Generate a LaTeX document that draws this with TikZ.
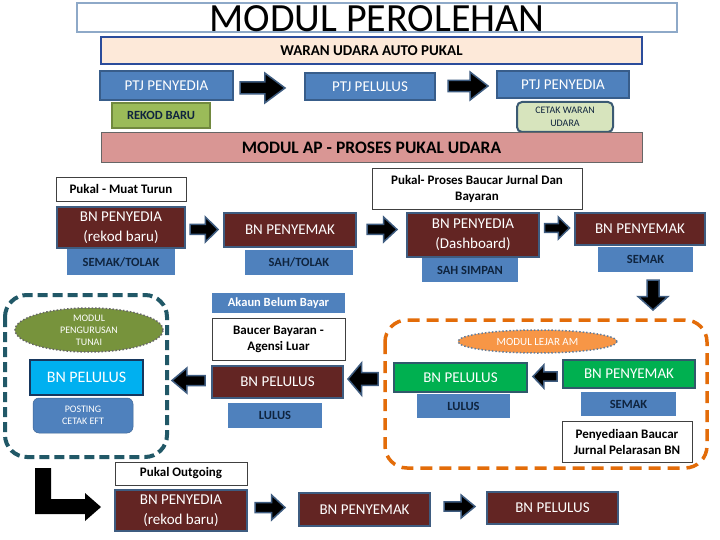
\documentclass[tikz,border=0pt]{standalone}
\usepackage{fontspec}
\setmainfont{Carlito}
\usetikzlibrary{shapes.geometric}
\definecolor{pblue}{HTML}{4F81BD}
\definecolor{pbluedk}{HTML}{385D8A}
\definecolor{maroon}{HTML}{632523}
\definecolor{slateedge}{HTML}{3E5C80}
\definecolor{titleedge}{HTML}{8EA9C8}
\definecolor{peach}{HTML}{FDE9D9}
\definecolor{waranedge}{HTML}{2B4C9B}
\definecolor{pinkap}{HTML}{D99694}
\definecolor{olivebox}{HTML}{9BBB59}
\definecolor{oliveedge}{HTML}{71893F}
\definecolor{lightgreen}{HTML}{D7E4BD}
\definecolor{cetakedge}{HTML}{3B5A73}
\definecolor{tealdash}{HTML}{215867}
\definecolor{olivedk}{HTML}{77933C}
\definecolor{cyanbox}{HTML}{00B0F0}
\definecolor{cyanedge}{HTML}{17375E}
\definecolor{orangedash}{HTML}{E36C09}
\definecolor{orangefill}{HTML}{F79646}
\definecolor{greenbox}{HTML}{00B050}
\definecolor{greenedge}{HTML}{31596B}
\definecolor{navytext}{HTML}{0F243E}
\newcommand\fs[2]{\fontsize{#1}{#2}\selectfont}
\newcommand\bx[7]{\node[#1, minimum width={(#5-#3)*1pt}, minimum height={(#6-#4)*1pt}] (#2) at ({(#3+#5)/2},{(#4+#6)/2}) {#7};}
\newcommand\barr[6]{%
  \begin{scope}[shift={(#2,#3)}, rotate=#6]
    \draw[blk] ({-#4/2},{-#5*0.2}) -- ({#4*0.05},{-#5*0.2}) -- ({#4*0.05},{-#5/2}) -- ({#4/2},0) -- ({#4*0.05},{#5/2}) -- ({#4*0.05},{#5*0.2}) -- ({-#4/2},{#5*0.2}) -- cycle;
  \end{scope}
  \coordinate (#1) at (#2,#3);}
\tikzset{
  base/.style={inner sep=0pt, align=center},
  ptjbox/.style={base, draw=pbluedk, fill=pblue, line width=1.5pt, text=white, font=\fs{15}{18}},
  mbox/.style={base, draw=slateedge, fill=maroon, line width=2.5pt, text=white, font=\fs{15}{20}},
  tagbox/.style={base, fill=pblue, text=navytext, font=\bfseries\fs{12.5}{15}},
  wbox/.style={base, draw=black!75, fill=white, line width=0.8pt, text=black, font=\bfseries\fs{13}{16}},
  blk/.style={fill=black, draw=slateedge, line width=1.5pt, line join=miter},
}
\begin{document}
\begin{tikzpicture}[x=1pt, y=-1pt]
\useasboundingbox (0,0) rectangle (720,540);
\fill[white] (0,0) rectangle (720,540);

% title
\bx{base, draw=titleedge, line width=2pt}{titlebox}{77}{3}{677}{32}{}
\node[inner sep=0, anchor=base, font=\fs{40}{42}] (title) at (377,32) {MODUL PEROLEHAN};

% waran
\bx{base, draw=waranedge, fill=peach, line width=2.5pt, font=\bfseries\fs{15}{17}}{waran}{101}{37}{642}{64}{WARAN UDARA AUTO PUKAL}

% PTJ row
\bx{ptjbox}{ptj1}{100}{71}{233}{100}{PTJ PENYEDIA}
\barr{a1}{262.5}{88}{45}{30}{0}
\bx{ptjbox}{ptj2}{305}{73}{435}{100}{PTJ PELULUS}
\barr{a2}{468}{86}{40}{28}{0}
\bx{ptjbox}{ptj3}{497}{71}{629}{98}{PTJ PENYEDIA}
\bx{base, draw=oliveedge, fill=olivebox, line width=1.5pt, text=navytext, font=\bfseries\fs{12.5}{14}}{rekod}{112}{103}{210}{128}{REKOD BARU}
\bx{base, draw=cetakedge, fill=lightgreen, line width=2pt, rounded corners=5pt, text=navytext, font=\fs{10}{13}}{cetak}{517}{102}{613}{132}{CETAK WARAN\\UDARA}

% Modul AP
\bx{base, draw=black!60, fill=pinkap, line width=1pt, font=\bfseries\fs{17.5}{20}}{modulap}{101}{133}{642}{163}{MODUL AP - PROSES PUKAL UDARA}

% row 1
\bx{wbox}{muat}{56}{177}{186}{201}{Pukal - Muat Turun}
\bx{wbox}{proses}{372}{168}{582}{209}{Pukal- Proses Baucar Jurnal Dan\\Bayaran}
\bx{mbox}{r1a}{57}{207}{185}{248}{BN PENYEDIA\\(rekod baru)}
\barr{b1}{204}{229.5}{28}{25}{0}
\bx{mbox}{r1b}{224}{213}{356}{247}{BN PENYEMAK}
\bx{tagbox}{semak1}{67}{249}{175}{275}{SEMAK/TOLAK}
\bx{tagbox}{sah1}{245}{250}{353}{275}{SAH/TOLAK}
\barr{b2}{382}{229.5}{30}{25}{0}
\bx{mbox}{r1c}{407}{213}{539}{257}{BN PENYEDIA\\(Dashboard)}
\bx{tagbox}{sahsimpan}{422}{258}{518}{282}{SAH SIMPAN}
\barr{b3}{557}{228}{25}{22}{0}
\bx{mbox}{r1d}{575}{213}{705}{245}{BN PENYEMAK}
\bx{tagbox}{semak2}{598}{247}{693}{272}{SEMAK}
\barr{b4}{653}{295}{30}{30}{-90}

% middle column
\bx{tagbox, text=white}{akaun}{212}{293}{345}{313}{Akaun Belum Bayar}
\bx{wbox}{baucer}{212}{318}{345}{360}{Baucer Bayaran -\\Agensi Luar}
\bx{mbox}{pelm}{212}{366}{343}{398}{BN PELULUS}
\bx{tagbox}{lulus1}{228}{403}{322}{428}{LULUS}
\barr{c1}{363}{379}{30}{32}{180}
\barr{c2}{188.5}{380.5}{33}{25}{180}

% teal dashed container
\draw[tealdash, line width=4pt, dash pattern=on 10pt off 5pt, rounded corners=22pt] (5,295) rectangle (167,457);
\node[ellipse, fill=olivedk, draw=black!60, dotted, line width=1.5pt, minimum width=148pt, minimum height=44pt, inner sep=0, align=center, text=white, font=\fs{10}{12}] (tunai) at (89,330) {MODUL\\PENGURUSAN\\TUNAI};
\bx{base, draw=cyanedge, fill=cyanbox, line width=1.5pt, text=white, font=\fs{16}{18}}{cyan}{30}{360}{143}{395}{BN PELULUS}
\bx{base, fill=pblue, draw=pblue!80!black, line width=0.5pt, rounded corners=6pt, text=white, font=\fs{10}{12}}{posting}{33}{398}{133}{433}{POSTING\\CETAK EFT}

% orange dashed container
\draw[orangedash, line width=3.5pt, dash pattern=on 12pt off 7pt, rounded corners=22pt] (385,320) rectangle (707,468);
\node[ellipse, fill=orangefill, draw=slateedge!80, dotted, line width=1.5pt, minimum width=159pt, minimum height=23pt, inner sep=0, text=white, font=\fs{11}{12}] (lejar) at (537.5,341.5) {MODUL LEJAR AM};
\bx{base, draw=greenedge, fill=greenbox, line width=2pt, text=white, font=\fs{15}{18}}{green1}{394}{363}{527}{392}{BN PELULUS}
\barr{d1}{545}{376.5}{24}{23}{180}
\bx{base, draw=greenedge, fill=greenbox, line width=2pt, text=white, font=\fs{15}{18}}{green2}{563}{360}{695}{388}{BN PENYEMAK}
\bx{tagbox}{lulus2}{417}{394}{510}{418}{LULUS}
\bx{tagbox}{semak3}{581}{392}{676}{416}{SEMAK}
\bx{wbox}{penyediaan}{562}{421}{692}{462}{Penyediaan Baucar\\Jurnal Pelarasan BN}

% L arrow
\fill[black] (35,468) -- (51,468) -- (51,499) -- (85,499) -- (85,493) -- (101,507) -- (85,521) -- (85,514) -- (35,514) -- cycle;

% bottom row
\bx{wbox}{outgoing}{115}{462}{247}{485}{Pukal Outgoing}
\bx{mbox}{r3a}{115}{490}{247}{531}{BN PENYEDIA\\(rekod baru)}
\barr{e1}{270}{507.5}{30}{25}{0}
\bx{mbox}{r3b}{299}{493}{430}{526}{BN PENYEMAK}
\barr{e2}{459.5}{506.5}{31}{23}{0}
\bx{mbox}{r3c}{487}{492}{618}{524}{BN PELULUS}
\end{tikzpicture}
\end{document}
